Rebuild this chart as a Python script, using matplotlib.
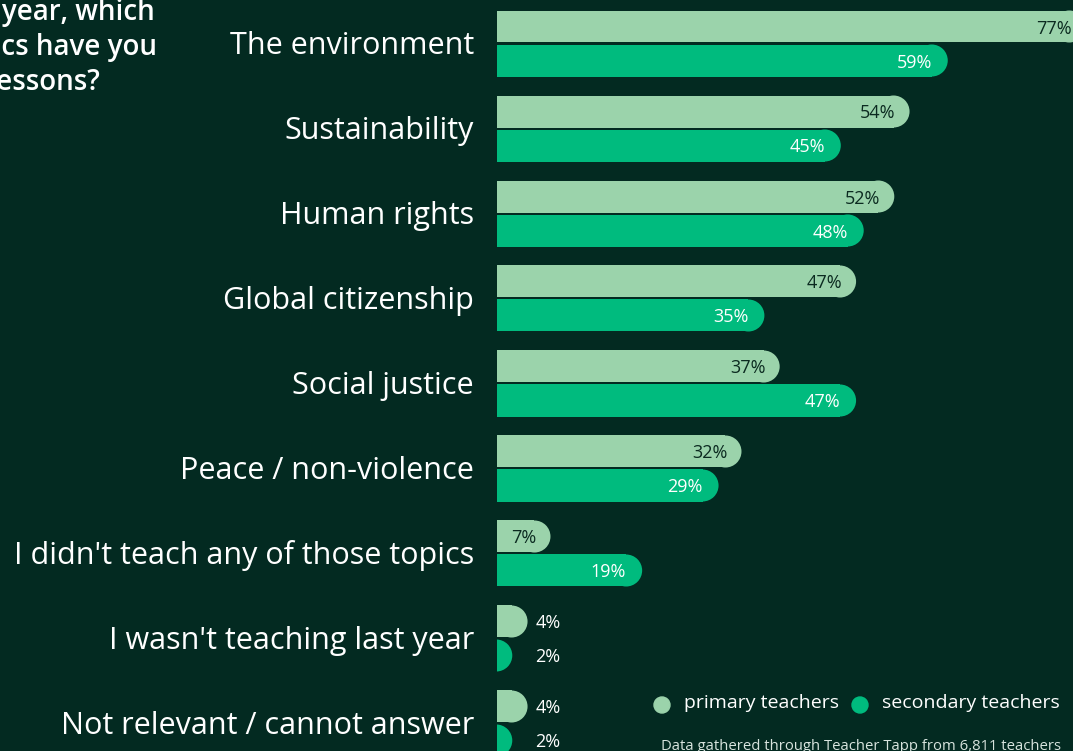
import matplotlib.pyplot as plt
from matplotlib.patches import Rectangle, Ellipse

# survey answers, top to bottom
topics = ["The environment", "Sustainability", "Human rights", "Global citizenship",
          "Social justice", "Peace / non-violence", "I didn't teach any of those topics",
          "I wasn't teaching last year", "Not relevant / cannot answer"]
primary = [77, 54, 52, 47, 37, 32, 7, 4, 4]
secondary = [59, 45, 48, 35, 47, 29, 19, 2, 2]

title_lines = ["Over the last year, which", "of these topics have you", "covered in lessons?"]
title_ends = [155, 157, 100]  # right end of each line, px
note = "Data gathered through Teacher Tapp from 6,811 teachers"

BG = "#032a21"
LIGHT = "#9bd3ab"
DARK = "#00bb7e"
TXT_DARK = "#0b2a20"

plt.rcParams['font.family'] = ['Open Sans', 'DejaVu Sans']

W, H = 1073, 751
fig = plt.figure(figsize=(W / 100, H / 100), dpi=100, facecolor=BG)
x0 = 497
ax = fig.add_axes([x0 / W, 0, 1 - x0 / W, 1])
ax.set_facecolor(BG)
px_per_pct = 7.64
ax.set_xlim(0, (W - x0) / px_per_pct)
row = 85.0
top = 43.5
ax.set_ylim((H - top) / row, -top / row)
ax.axis("off")

bar_h = 32 / row
off = 17 / row
rx = 16 / px_per_pct  # cap radius in % units


def rounded_bar(y, v, color):
    if v - rx > 0:
        ax.add_patch(Rectangle((0, y - bar_h / 2), v - rx, bar_h, color=color, lw=0))
    ax.add_patch(Ellipse((v - rx, y), 2 * rx, bar_h, color=color, lw=0))


for i, (p, s) in enumerate(zip(primary, secondary)):
    yp, ys = i - off, i + off
    rounded_bar(yp, p, LIGHT)
    rounded_bar(ys, s, DARK)
    for y, v, pad, col in [(yp, p, 14, TXT_DARK), (ys, s, 16, "white")]:
        if v < 5:
            ax.text(5, y, f"{v}%", ha="left", va="center_baseline", fontsize=13,
                    color="white")
        else:
            ax.text(v - pad / px_per_pct, y, f"{v}%", ha="right", va="center_baseline",
                    fontsize=13, color=col)
    fig.text(474 / W, 1 - (top + row * i + 10.5) / H, topics[i], ha="right",
             va="baseline", fontsize=22, color="white")

# title block runs off the left edge of the canvas
for k, (line, xe) in enumerate(zip(title_lines, title_ends)):
    fig.text(xe / W, 1 - (20 + 35 * k) / H, line, ha="right", va="baseline",
             fontsize=20, color="white", fontweight="semibold")

# legend
for cx, lab, col in [(662, "primary teachers", LIGHT), (860, "secondary teachers", DARK)]:
    fig.patches.append(Ellipse((cx / W, 1 - 705 / H), 16 / W, 16 / H, color=col,
                               transform=fig.transFigure, figure=fig))
    fig.text((cx + 22) / W, 1 - 703 / H, lab, ha="left", va="center", fontsize=14,
             color="white")

fig.text(661 / W, 1 - 746 / H, note, ha="left", va="center", fontsize=10.7,
         color="#d8e4de")

fig.savefig("out.png", dpi=100, facecolor=BG)
